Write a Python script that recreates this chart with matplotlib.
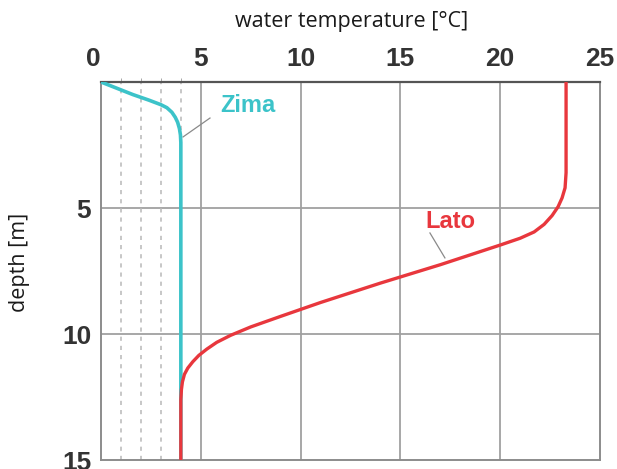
import numpy as np
import matplotlib.pyplot as plt

# temperatura [°C], glebokosc [m]
zima_temp = [0.0, 0.8, 1.6, 2.4, 3.0, 3.3, 3.55, 3.72, 3.84, 3.93, 3.98, 4.0, 4.0, 4.0]
zima_depth = [0.0, 0.25, 0.5, 0.72, 0.9, 1.02, 1.2, 1.4, 1.6, 1.85, 2.1, 2.4, 12.0, 15.0]

lato_temp = [23.3, 23.3, 23.25, 23.1, 22.9, 22.6, 22.2, 21.7, 21.0, 20.0, 17.0, 14.0,
             11.0, 9.0, 7.5, 6.5, 5.8, 5.3, 4.9, 4.6, 4.35, 4.18, 4.08, 4.03, 4.0, 4.0]
lato_depth = [0.0, 3.6, 4.2, 4.6, 4.95, 5.3, 5.65, 5.95, 6.2, 6.47, 7.25, 7.98,
              8.75, 9.3, 9.72, 10.05, 10.33, 10.6, 10.85, 11.1, 11.35, 11.6, 11.9, 12.2, 12.6, 15.0]

xticks = [0, 5, 10, 15, 20, 25]
yticks = [5, 10, 15]
dashed_x = [1, 2, 3, 4]

cyan = "#3cc3c9"
red = "#e8373d"

fig = plt.figure(figsize=(6.17, 4.69), dpi=100)
ax = fig.add_axes([101/617, 9/469, 499/617, 378/469])

# siatka
for x in [5, 10, 15, 20]:
    ax.axvline(x, color="#a0a0a0", lw=1.3, zorder=1)
for y in [5, 10]:
    ax.axhline(y, color="#a0a0a0", lw=1.3, zorder=1)
for x in dashed_x:
    ax.axvline(x, color="#bdbdbd", lw=1.2, ls=(0, (2.5, 3)), zorder=1)

ax.plot(zima_temp, zima_depth, color=cyan, lw=2.6, zorder=3,
        solid_capstyle="round", solid_joinstyle="round")
ax.plot(lato_temp, lato_depth, color=red, lw=2.4, zorder=4,
        solid_capstyle="round", solid_joinstyle="round")

# podpisy krzywych
ax.text(7.35, 0.95, "Zima", color=cyan, fontsize=17, fontweight="bold",
        ha="center", va="center", family="Liberation Sans")
ax.plot([5.46, 4.11], [1.43, 2.18], color="#8a8a8a", lw=0.9, zorder=2)
ax.text(17.5, 5.55, "Lato", color=red, fontsize=17, fontweight="bold",
        ha="center", va="center", family="Liberation Sans")
ax.plot([16.48, 17.23], [5.99, 6.98], color="#8a8a8a", lw=0.9, zorder=2)

ax.set_xlim(0, 25)
ax.set_ylim(15, 0)
ax.xaxis.tick_top()
ax.set_xticks(xticks)
ax.set_xticks(dashed_x, minor=True)
ax.set_yticks(yticks)
ax.tick_params(axis="x", which="major", length=0, pad=8, labelsize=19, labelcolor="#333333")
ax.tick_params(axis="x", which="minor", length=3, color="#999999", top=True, bottom=False)
ax.tick_params(axis="y", length=0, pad=7, labelsize=19, labelcolor="#333333")
for lab in ax.get_xticklabels() + ax.get_yticklabels():
    lab.set_fontfamily("Liberation Sans")
    lab.set_fontweight("bold")
ax.get_xticklabels()[0].set_ha("right")

ax.spines["top"].set_color("#555555")
ax.spines["top"].set_linewidth(1.6)
for s in ["left", "right", "bottom"]:
    ax.spines[s].set_color("#8c8c8c")
    ax.spines[s].set_linewidth(1.4)

fig.text(352/617, 1 - 22/469, "water temperature [°C]", ha="center", va="center",
         fontsize=15.5, family="Open Sans", color="#1a1a1a")
fig.text(20/617, 1 - 262/469, "depth [m]", ha="center", va="center", rotation=90,
         fontsize=15.5, family="Open Sans", color="#1a1a1a")

fig.savefig("out.png", dpi=100)
